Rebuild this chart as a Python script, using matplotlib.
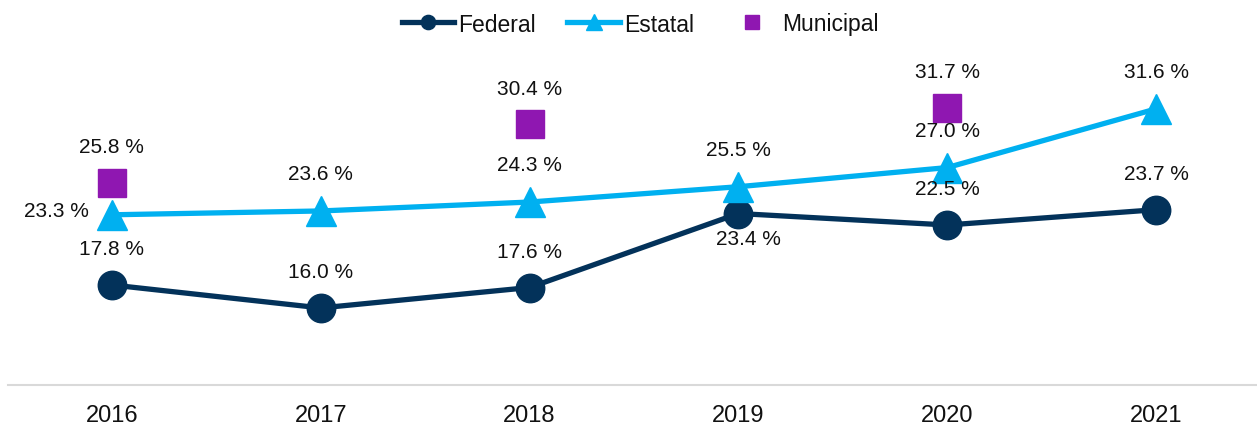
import matplotlib
matplotlib.use("Agg")
import matplotlib.pyplot as plt

plt.rcParams["font.family"] = ["Liberation Sans", "DejaVu Sans"]

years = ["2016", "2017", "2018", "2019", "2020", "2021"]
federal = [17.8, 16.0, 17.6, 23.4, 22.5, 23.7]
estatal = [23.3, 23.6, 24.3, 25.5, 27.0, 31.6]
municipal_idx = [0, 2, 4]
municipal = [25.8, 30.4, 31.7]

c_fed = "#03325A"
c_est = "#00B0F0"
c_mun = "#8F17B1"

fig = plt.figure(figsize=(12.57, 4.27), dpi=100)
ax = fig.add_axes([7.5 / 1257, 41.5 / 427, 1253 / 1257, 319 / 427])

x = list(range(len(years)))
ax.plot(x, federal, color=c_fed, lw=3.8, marker="o", ms=20.5, label="Federal")
ax.plot(x, estatal, color=c_est, lw=3.8, marker="^", ms=22, label="Estatal")
ax.plot(municipal_idx, municipal, ls="none", color=c_mun, marker="s", ms=19.5,
        label="Municipal")

fs = 15
tc = "#111111"


def put(i, v, dx, dy):
    ax.annotate(f"{v:.1f} %", (i, v), xytext=(dx, dy), textcoords="offset points",
                ha="center", va="center", fontsize=fs, color=tc, zorder=10)


# federal labels: above except 2019 below
for i, v in enumerate(federal):
    if i == 3:
        put(i, v, 7, -18)
    else:
        put(i, v, 0, 26)
for i, v in enumerate(estatal):
    if i == 0:
        put(i, v, -40, 3)
    else:
        put(i, v, 0, 27)
for i, v in zip(municipal_idx, municipal):
    put(i, v, 0, 26)

ax.set_xlim(-0.5, 5.5)
ax.set_ylim(10, 35)
ax.set_xticks(x)
ax.set_xticklabels(years, fontsize=17, color=tc)
ax.set_yticks([])
for s in ["top", "right", "left"]:
    ax.spines[s].set_visible(False)
ax.spines["bottom"].set_color("#D9D9D9")
ax.spines["bottom"].set_linewidth(1.5)
ax.tick_params(axis="x", length=0, pad=14)

handles, labels = ax.get_legend_handles_labels()
leg = fig.legend(handles, labels, loc="center", bbox_to_anchor=(640 / 1257, 1 - 25 / 427),
                 ncol=3, frameon=False, fontsize=16.5, markerscale=0.5,
                 handlelength=2.3, handletextpad=0.15, columnspacing=1.4)
for t in leg.get_texts():
    t.set_color(tc)

fig.savefig("out.png", dpi=100)
